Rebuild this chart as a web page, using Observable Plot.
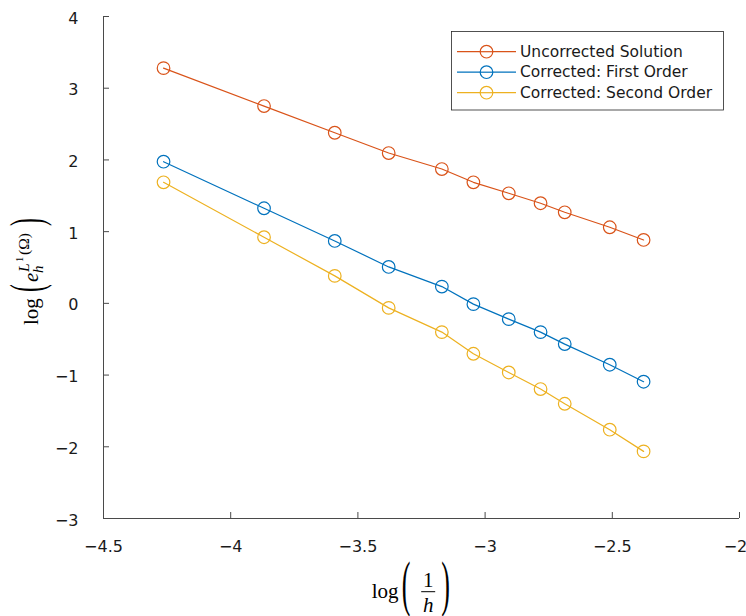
<!DOCTYPE html>
<html><head><meta charset="utf-8">
<script src="https://cdn.jsdelivr.net/npm/d3@7"></script>
<script src="https://cdn.jsdelivr.net/npm/@observablehq/plot@0.6"></script>
<style>body{margin:0;background:#fff}#chart{width:746px;height:616px}</style>
</head><body><div id="chart"></div>
<script>
const logInvH = [-4.264, -3.869, -3.591, -3.379, -3.170, -3.046, -2.907, -2.782, -2.687, -2.510, -2.377];
const uncorrected = [3.280, 2.751, 2.379, 2.096, 1.873, 1.688, 1.535, 1.396, 1.270, 1.061, 0.884];
const firstOrder = [1.975, 1.326, 0.870, 0.508, 0.234, -0.011, -0.220, -0.401, -0.568, -0.856, -1.093];
const secondOrder = [1.688, 0.922, 0.383, -0.063, -0.401, -0.703, -0.964, -1.195, -1.400, -1.762, -2.064];
const seriesNames = ["Uncorrected Solution", "Corrected: First Order", "Corrected: Second Order"];
const seriesColors = ["#D95319", "#0072BD", "#EDB120"];
const xTicks = [-4.5, -4, -3.5, -3, -2.5, -2];
const yTicks = [-3, -2, -1, 0, 1, 2, 3, 4];

const data = [uncorrected, firstOrder, secondOrder].flatMap((vals, i) =>
  vals.map((v, j) => ({x: logInvH[j], y: v, s: seriesNames[i]})));
const fmt = d => String(d).replace("-", "\u2212");
const axisStroke = "#4a4a4a";
const lastX = xTicks[xTicks.length - 1];

const plot = Plot.plot({
  width: 746, height: 616,
  marginLeft: 103, marginRight: 7, marginTop: 16, marginBottom: 98,
  style: {fontFamily: "DejaVu Sans", fontSize: "16px", color: "#1a1a1a", background: "white"},
  x: {domain: [-4.5, -2]},
  y: {domain: [-3, 4]},
  color: {domain: seriesNames, range: seriesColors},
  marks: [
    Plot.ruleY([-3], {stroke: axisStroke}),
    Plot.ruleX([-4.5], {stroke: axisStroke}),
    Plot.axisX(xTicks, {tickSize: 6, dy: -6, tickFormat: () => "", stroke: axisStroke, label: null}),
    Plot.axisX(xTicks.filter(d => d !== lastX), {tickSize: 0, tickPadding: 22, tickFormat: fmt, label: null, fill: "#1a1a1a"}),
    Plot.axisX([lastX], {tickSize: 0, tickPadding: 22, dx: -4, tickFormat: fmt, label: null, fill: "#1a1a1a"}),
    Plot.axisY(yTicks, {tickSize: 6, dx: 6, tickFormat: () => "", stroke: axisStroke, label: null}),
    Plot.axisY(yTicks, {tickSize: 0, tickPadding: 25, dy: 2, tickFormat: fmt, label: null, fill: "#1a1a1a"}),
    Plot.line(data, {x: "x", y: "y", z: "s", stroke: "s", strokeWidth: 1.2}),
    Plot.dot(data, {x: "x", y: "y", stroke: "s", r: 6.3, strokeWidth: 1.2, fill: "none"})
  ]
});
document.getElementById("chart").append(plot);

const svg = d3.select(plot);
// legend
const lg = svg.append("g").attr("font-family", "DejaVu Sans").attr("font-size", 15.5)
  .attr("fill", "#1a1a1a").attr("text-anchor", "start");
lg.append("rect").attr("x", 451.5).attr("y", 31.5).attr("width", 272).attr("height", 78.5)
  .attr("fill", "white").attr("stroke", "#262626").attr("stroke-width", 0.8);
seriesNames.forEach((name, i) => {
  const cy = 51.7 + i * 20.5;
  lg.append("line").attr("x1", 457).attr("x2", 516).attr("y1", cy).attr("y2", cy)
    .attr("stroke", seriesColors[i]).attr("stroke-width", 1.2);
  lg.append("circle").attr("cx", 486.5).attr("cy", cy).attr("r", 6.3)
    .attr("fill", "white").attr("stroke", seriesColors[i]).attr("stroke-width", 1.2);
  lg.append("line").attr("x1", 480).attr("x2", 493).attr("y1", cy).attr("y2", cy)
    .attr("stroke", seriesColors[i]).attr("stroke-width", 1.2);
  lg.append("text").attr("x", 520).attr("y", cy + 5).text(name);
});

// y label: log( e_h^{L^1(Ω)} )
const serif = "Liberation Serif";
const yl = svg.append("g").attr("transform", "translate(38,325) rotate(-90)")
  .attr("font-family", serif).attr("fill", "#000").attr("text-anchor", "start");
yl.append("text").attr("font-size", 21).text("log");
yl.append("text").attr("font-size", 47).attr("transform", "translate(33,3.7) scale(0.5,1)").text("(");
yl.append("text").attr("font-size", 21).attr("font-style", "italic").attr("x", 43).text("e");
yl.append("text").attr("font-size", 15).attr("font-style", "italic").attr("x", 52).attr("y", 5).text("h");
yl.append("text").attr("font-size", 15.5).attr("font-style", "italic").attr("x", 53).attr("y", -9).text("L");
yl.append("text").attr("font-size", 10.5).attr("x", 63).attr("y", -15).text("1");
yl.append("text").attr("font-size", 15.5).attr("x", 70).attr("y", -9).text("(Ω)");
yl.append("text").attr("font-size", 47).attr("transform", "translate(99,3.7) scale(0.5,1)").text(")");

// x label: log( 1/h )
const xl = svg.append("g").attr("transform", "translate(371.7,598)")
  .attr("font-family", serif).attr("fill", "#000").attr("text-anchor", "start");
xl.append("text").attr("font-size", 21).text("log");
xl.append("text").attr("font-size", 62).attr("transform", "translate(30,6) scale(0.42,1)").text("(");
xl.append("text").attr("font-size", 21).attr("text-anchor", "middle").attr("x", 56.6).attr("y", -11.3).text("1");
xl.append("line").attr("x1", 49.5).attr("x2", 63.5).attr("y1", -6.3).attr("y2", -6.3).attr("stroke", "#000").attr("stroke-width", 1);
xl.append("text").attr("font-size", 21).attr("font-style", "italic").attr("text-anchor", "middle").attr("x", 56.6).attr("y", 13.7).text("h");
xl.append("text").attr("font-size", 62).attr("transform", "translate(69.5,6) scale(0.42,1)").text(")");
</script>
</body></html>
